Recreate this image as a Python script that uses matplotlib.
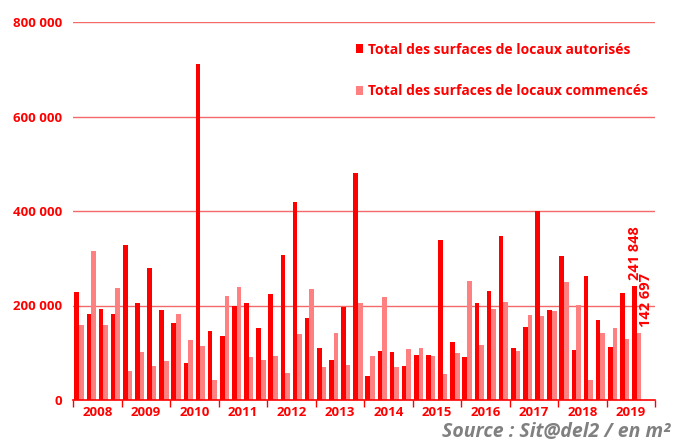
import matplotlib
matplotlib.use("Agg")
import matplotlib.pyplot as plt
import numpy as np
from matplotlib.patches import Patch

years = ["2008", "2009", "2010", "2011", "2012", "2013", "2014", "2015", "2016", "2017", "2018", "2019"]

autorises = [228000, 181000, 193000, 183000,
             327000, 205000, 280000, 191000,
             163000, 79000, 712000, 145000,
             135000, 199000, 205000, 152000,
             224000, 306000, 420000, 174000,
             111000, 85000, 197000, 480000,
             50000, 104000, 102000, 73000,
             95000, 95000, 338000, 123000,
             91000, 206000, 231000, 348000,
             111000, 155000, 401000, 191000,
             305000, 105000, 262000, 169000,
             112000, 226000, 241848, np.nan]

commences = [159000, 315000, 159000, 238000,
             62000, 102000, 71000, 83000,
             182000, 126000, 114000, 43000,
             220000, 239000, 92000, 84000,
             94000, 57000, 140000, 235000,
             70000, 141000, 74000, 205000,
             93000, 219000, 69000, 107000,
             109000, 94000, 55000, 99000,
             251000, 116000, 193000, 208000,
             104000, 179000, 178000, 188000,
             250000, 202000, 42000, 141000,
             152000, 130000, 142697, np.nan]

label_auto = "Total des surfaces de locaux autorisés"
label_comm = "Total des surfaces de locaux commencés"

RED = "#ff0000"
PINK = "#ff8080"
GRID = "#f46a6a"
FONT = "Open Sans"

fig = plt.figure(figsize=(6.82, 4.41), dpi=100)
ax = fig.add_axes([73/682, 1-400/441, (655-73)/682, (400-22)/441])

n = len(autorises)
x = np.arange(n)
w = 0.38
ax.bar(x - w/2, autorises, width=w, color=RED, zorder=3)
ax.bar(x + w/2, commences, width=w, color=PINK, zorder=3)

ax.set_xlim(-0.5, n - 0.5)
ax.set_ylim(0, 800000)

yt = [0, 200000, 400000, 600000, 800000]
ax.set_yticks(yt)
ax.set_yticklabels([f"{v:,}".replace(",", " ") for v in yt])
for v in yt[1:]:
    ax.axhline(v, color=GRID, lw=1, zorder=1)
ax.tick_params(axis="y", length=0, pad=8, labelcolor=RED, labelsize=9.5)

# year ticks
bounds = np.arange(-0.5, n, 4)
ax.set_xticks(bounds)
ax.set_xticklabels([""] * len(bounds))
ax.tick_params(axis="x", which="major", length=5, width=1, color=RED, direction="out")
centers = np.arange(1.5, n, 4)
ax.set_xticks(centers, minor=True)
ax.set_xticklabels(years, minor=True)
ax.tick_params(axis="x", which="minor", length=0, pad=4, labelcolor=RED, labelsize=9.5)

for lab in ax.get_xticklabels(minor=True) + ax.get_yticklabels():
    lab.set_fontweight("bold")
    lab.set_fontfamily(FONT)

for s in ["left", "right", "top"]:
    ax.spines[s].set_visible(False)
ax.spines["bottom"].set_color(RED)
ax.spines["bottom"].set_linewidth(1.2)
ax.spines["bottom"].set_zorder(4)

# annotations for last values
i_last = 46
ax.annotate(f"{int(autorises[i_last]):,}".replace(",", " "), xy=(i_last - w/2, autorises[i_last]),
            xytext=(0, 4), textcoords="offset points", rotation=90, ha="center", va="bottom",
            color=RED, fontsize=10.5, fontweight="bold", fontfamily=FONT)
ax.annotate(f"{int(commences[i_last]):,}".replace(",", " "), xy=(i_last + w/2, commences[i_last]),
            xytext=(5, 4), textcoords="offset points", rotation=90, ha="center", va="bottom",
            color=RED, fontsize=10.5, fontweight="bold", fontfamily=FONT)

handles = [Patch(facecolor=RED, edgecolor="none"), Patch(facecolor=PINK, edgecolor="none")]
leg = ax.legend(handles, [label_auto, label_comm], loc="upper left",
                bbox_to_anchor=(343/682, 1-30/441), bbox_transform=fig.transFigure,
                frameon=False, handlelength=0.55, handleheight=0.55, handletextpad=0.35,
                labelspacing=2.0, labelcolor=RED,
                prop={"family": FONT, "weight": "bold", "size": 10})

fig.text(670/682, 1-432/441, "Source : Sit@del2 / en m²", ha="right", va="center",
         color="#808080", fontsize=14, fontweight="bold", fontstyle="italic", fontfamily=FONT)

fig.savefig("out.png", dpi=100)
